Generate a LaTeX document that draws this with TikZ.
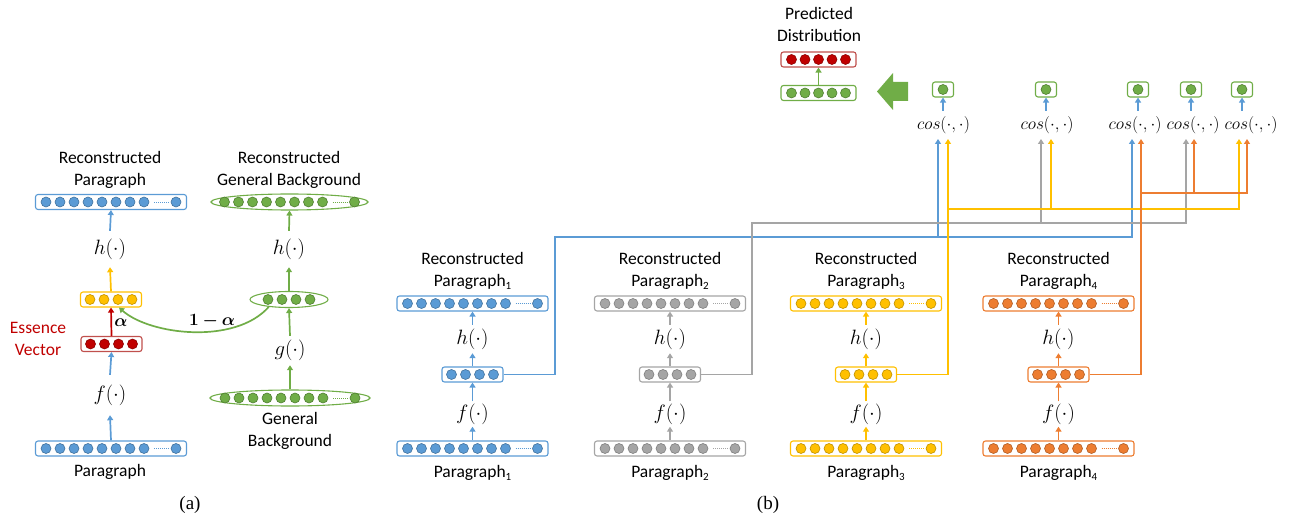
\documentclass[tikz,border=0pt]{standalone}
\usepackage{fontspec}
\usepackage{bm}
\usetikzlibrary{arrows.meta,shapes.geometric}
\newfontfamily\carl{Carlito}
\newfontfamily\tnr{Liberation Serif}
\definecolor{cblue}{HTML}{5B9BD5}
\definecolor{dblue}{HTML}{41719C}
\definecolor{cgrey}{HTML}{A5A5A5}
\definecolor{dgrey}{HTML}{7F7F7F}
\definecolor{cyellow}{HTML}{FFC000}
\definecolor{dyellow}{HTML}{BF9000}
\definecolor{corange}{HTML}{ED7D31}
\definecolor{dorange}{HTML}{AE5A21}
\definecolor{cgreen}{HTML}{70AD47}
\definecolor{dgreen}{HTML}{507E32}
\definecolor{cred}{HTML}{C00000}
\definecolor{dred}{HTML}{8B0000}
\definecolor{redbd}{HTML}{C0504D}
\newcommand{\longdots}[3]{%
  \foreach \k in {0,...,7}{\filldraw[fill=c#3,draw=d#3,line width=0.6pt] ({#1-65+14*\k},#2) circle (5pt);}
  \draw[c#3,line width=0.8pt,dash pattern=on 1pt off 1pt] ({#1+43},#2) -- ({#1+58},#2);
  \filldraw[fill=c#3,draw=d#3,line width=0.6pt] ({#1+65},#2) circle (5pt);}
\newcommand{\shortdots}[3]{%
  \foreach \k in {-21,-7,7,21}{\filldraw[fill=c#3,draw=d#3,line width=0.6pt] ({#1+\k},#2) circle (5pt);}}
\newcommand{\fivedots}[3]{%
  \foreach \k in {-27,-13.5,0,13.5,27}{\filldraw[fill=c#3,draw=d#3,line width=0.6pt] ({#1+\k},#2) circle (5pt);}}
\newcommand{\psub}[1]{\raisebox{-3.5pt}{\fontsize{11}{11}\selectfont #1}}
\tikzset{
  lbl/.style={font=\carl\fontsize{17.5}{22}\selectfont, align=center, inner sep=0},
  fn/.style={font=\fontsize{20.74}{24}\selectfont, inner sep=0, minimum height=#1},
  cosn/.style={font=\fontsize{18}{22}\selectfont, inner sep=0, minimum height=28},
  lbox/.style={draw=#1, rounded corners=2.5pt, line width=1.1pt, minimum width=151, minimum height=15, inner sep=0},
  sbox/.style={draw=#1, rounded corners=2.5pt, line width=1.1pt, minimum width=61, minimum height=15, inner sep=0},
  pbox/.style={draw=#1, rounded corners=2.5pt, line width=1.1pt, minimum width=75, minimum height=15, inner sep=0},
  obox/.style={draw=cgreen, rounded corners=2.5pt, line width=1.1pt, minimum width=21, minimum height=15, inner sep=0},
  ebox/.style={draw=cgreen, ellipse, line width=1.1pt, minimum height=16, inner sep=0},
  arr/.style={draw=#1, line width=1.7pt, -{Triangle[length=5pt,width=6pt]}},
}
\begin{document}
\begin{tikzpicture}[x=1pt,y=-1pt]
\useasboundingbox (0,0) rectangle (1289,521);
% ---------------- (a) ----------------
\node[lbl] (recP) at (110,170) {Reconstructed\\Paragraph};
\node[lbox=cblue] (aTop) at (111,202) {};
\longdots{111}{202}{blue}
\node[fn=36] (ah) at (110,249) {$h(\cdot)$};
\node[sbox=cyellow] (aY) at (111,299.5) {};
\shortdots{111}{299.5}{yellow}
\node[sbox=redbd] (aR) at (111.5,344) {};
\shortdots{111.5}{344}{red}
\node[fn=40] (af) at (110,395) {$f(\cdot)$};
\node[lbox=cblue] (aP) at (111,448.5) {};
\longdots{111}{448.5}{blue}
\node[lbl] (aPl) at (110,472) {Paragraph};
\node[lbl,text=cred] (ess) at (38,339) {Essence\\Vector};
\node[font=\fontsize{17.5}{21}\selectfont, inner sep=0] (alab) at (121,323) {$\bm{\alpha}$};
\draw[arr=cblue] (ah.north) -- (aTop.south);
\draw[arr=cyellow] (aY.north) -- (ah.south);
\draw[arr=cred] (aR.north) -- (aY.south);
\draw[arr=cblue] (af.north) -- (aR.south);
\draw[arr=cblue] (aP.north) -- (af.south);
% general background
\node[lbl] (recG) at (289,170) {Reconstructed\\General Background};
\node[ebox, minimum width=157] (gTop) at (289.5,202) {};
\longdots{289.5}{202}{green}
\node[fn=36] (gh) at (289,249) {$h(\cdot)$};
\node[ebox, minimum width=78] (gS) at (289,299.5) {};
\shortdots{289}{299.5}{green}
\node[fn=29] (gg) at (290,350.5) {$g(\cdot)$};
\node[ebox, minimum width=160] (gB) at (290,398) {};
\longdots{290}{398}{green}
\node[lbl] (gBl) at (290,431) {General\\Background};
\draw[arr=cgreen] (gh.north) -- (gTop.south);
\draw[arr=cgreen] (gS.north) -- (gh.south);
\draw[arr=cgreen] (gg.north) -- (gS.south);
\draw[arr=cgreen] (gB.north) -- (gg.south);
\draw[arr=cgreen] (gS.200) .. controls (235,345) and (150,335) .. ([xshift=8]aY.south);
\node[font=\fontsize{17.5}{21}\selectfont, inner sep=0] (oma) at (212,321) {$\bm{1-\alpha}$};
\node[font=\tnr\fontsize{19}{22}\selectfont, inner sep=0] (capa) at (190,505) {(a)};
% ---------------- (b) ----------------
\foreach \c/\i/\col in {472.5/1/blue,670/2/grey,866/3/yellow,1058.5/4/orange}{
  \node[lbl] (rec\i) at (\c,271) {Reconstructed\\Paragraph\psub{\i}};
  \node[lbox=c\col] (top\i) at (\c,303.5) {};
  \longdots{\c}{303.5}{\col}
  \node[fn=28] (h\i) at (\c,339) {$h(\cdot)$};
  \node[sbox=c\col] (mid\i) at (\c,374.5) {};
  \shortdots{\c}{374.5}{\col}
  \node[fn=25] (f\i) at (\c,414) {$f(\cdot)$};
  \node[lbox=c\col] (bot\i) at (\c,448.5) {};
  \longdots{\c}{448.5}{\col}
  \node[lbl] (par\i) at (\c,473) {Paragraph\psub{\i}};
  \draw[arr=c\col] (h\i.north) -- (top\i.south);
  \draw[arr=c\col] (mid\i.north) -- (h\i.south);
  \draw[arr=c\col] (f\i.north) -- (mid\i.south);
  \draw[arr=c\col] (bot\i.north) -- (f\i.south);
}
\node[font=\tnr\fontsize{19}{22}\selectfont, inner sep=0] (capb) at (768,505) {(b)};
% predicted distribution
\node[lbl] (pd) at (819,24) {Predicted\\Distribution};
\node[pbox=redbd] (pred) at (818.5,59.5) {};
\fivedots{818.5}{59.5}{red}
\node[pbox=cgreen] (pgr) at (818.5,93) {};
\fivedots{818.5}{93}{green}
\draw[arr=cgreen] (pgr.north) -- (pred.south);
\fill[cgreen] (877,91.5) -- (893,73) -- (893,82) -- (908,82) -- (908,101) -- (893,101) -- (893,110) -- cycle;
% cos nodes
\foreach \i/\tx/\bx in {1/943.5/943,2/1047/1046,3/1135/1138,4/1193/1191,5/1251/1242}{
  \node[cosn] (cos\i) at (\tx,125) {$cos(\cdot,\cdot)$};
  \node[obox] (o\i) at (\bx,89.5) {};
  \filldraw[fill=cgreen,draw=dgreen,line width=0.6pt] (\bx,89.5) circle (5pt);
  \draw[arr=cblue] (o\i.south |- cos\i.north) -- (o\i.south);
}
\coordinate (c1a) at (938,139); \coordinate (c1b) at (948,139);
\coordinate (c2a) at (1041,139); \coordinate (c2b) at (1051,139);
\coordinate (c3a) at (1132,139); \coordinate (c3b) at (1141,139);
\coordinate (c4a) at (1186,139); \coordinate (c4b) at (1194,139);
\coordinate (c5a) at (1239,139); \coordinate (c5b) at (1247,139);
\coordinate (bt) at (555,237); \coordinate (gt) at (752,223);
\coordinate (yt) at (948,209); \coordinate (ot) at (1141,193);
% blue
\draw[arr=cblue] (mid1.east) -| (bt) -| (c3a);
\draw[arr=cblue] (c1a |- bt) -- (c1a);
% grey
\draw[arr=cgrey] (mid2.east) -| (gt) -| (c4a);
\draw[arr=cgrey] (c2a |- gt) -- (c2a);
% yellow
\draw[arr=cyellow] (mid3.east) -| (c1b);
\draw[arr=cyellow] (yt) -| (c5a);
\draw[arr=cyellow] (c2b |- yt) -- (c2b);
% orange
\draw[arr=corange] (mid4.east) -| (c3b);
\draw[arr=corange] (ot) -| (c5b);
\draw[arr=corange] (c4b |- ot) -- (c4b);
\end{tikzpicture}
\end{document}
